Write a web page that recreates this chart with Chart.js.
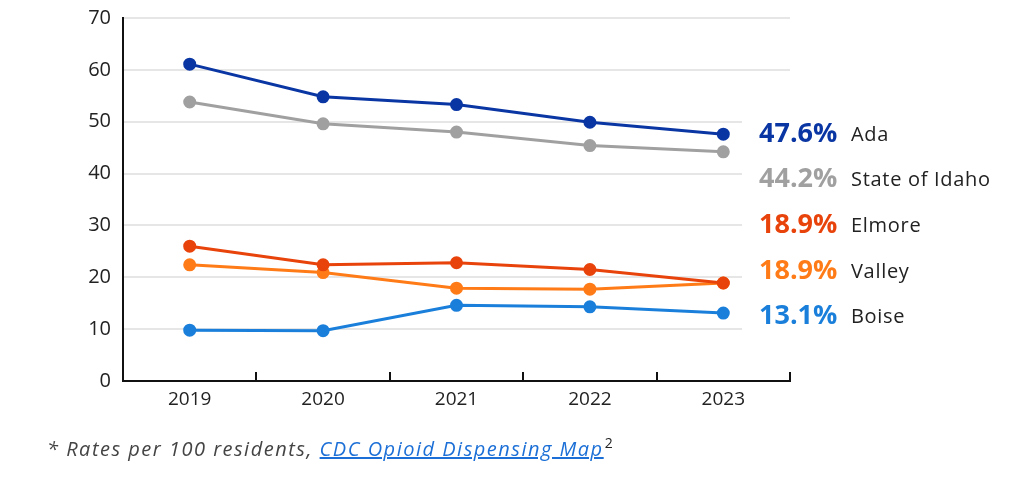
<!DOCTYPE html>
<html lang="en">
<head>
    <meta charset="UTF-8">
    <title>Opioid Dispensing Rates</title>
    <script src="https://cdn.jsdelivr.net/npm/chart.js"></script>
    <style>
        body { margin: 0; background: #fff; }
        .wrap { position: relative; width: 1024px; height: 484px; }
        .note {
            position: absolute; left: 47px; top: 433px;
            font-family: "Open Sans", sans-serif; font-size: 20px; font-style: italic;
            letter-spacing: 1.5px; color: #444; white-space: nowrap;
        }
        .note a { color: #1b6fd6; text-decoration: underline; }
        .note sup { font-style: normal; font-size: 14px; color: #222; margin-left: 1px; letter-spacing: 0; }
    </style>
</head>
<body>
    <div class="wrap">
        <canvas id="chartRates" width="1024" height="484"></canvas>
        <div class="note">* Rates per 100 residents, <a href="#">CDC Opioid Dispensing Map</a><sup>2</sup></div>
    </div>

    <script>
        // years + rates per 100 residents
        const years = ['2019', '2020', '2021', '2022', '2023'];
        const seriesNames = ['Ada', 'State of Idaho', 'Elmore', 'Valley', 'Boise'];
        const adaRates = [61.1, 54.8, 53.3, 49.9, 47.6];
        const idahoRates = [53.8, 49.6, 48.0, 45.4, 44.2];
        const elmoreRates = [26.0, 22.4, 22.8, 21.5, 18.9];
        const valleyRates = [22.4, 20.9, 17.9, 17.7, 18.9];
        const boiseRates = [9.8, 9.7, 14.6, 14.3, 13.1];
        const yTicks = [0, 10, 20, 30, 40, 50, 60, 70];

        const colors = ['#0a36a4', '#a0a0a0', '#e8430b', '#ff7b17', '#1a7fda'];
        const allRates = [adaRates, idahoRates, elmoreRates, valleyRates, boiseRates];

        // labels at the right end of the lines, and the small upward ticks on the x axis
        const endLabels = {
            id: 'endLabels',
            afterDraw(chart) {
                const ctx = chart.ctx;
                const area = chart.chartArea;
                const xs = chart.scales.x;
                const ys = chart.scales.y;

                ctx.save();
                // x-axis ticks pointing up, between categories
                ctx.strokeStyle = '#111';
                ctx.lineWidth = 2;
                for (let i = 0; i <= years.length; i++) {
                    let px = Math.round(xs.getPixelForValue(i - 0.5));
                    ctx.beginPath();
                    ctx.moveTo(px, area.bottom);
                    ctx.lineTo(px, area.bottom - 9);
                    ctx.stroke();
                }

                // white box so the lower gridlines stop before the labels
                ctx.fillStyle = '#fff';
                ctx.fillRect(742, ys.getPixelForValue(55), 60, ys.getPixelForValue(5) - ys.getPixelForValue(55));

                let last = years.length - 1;
                let y0 = chart.getDatasetMeta(0).data[last].y;
                ctx.textBaseline = 'middle';
                chart.data.datasets.forEach((ds, i) => {
                    let y = y0 + i * 45.6;
                    ctx.letterSpacing = '0px';
                    ctx.font = 'bold 27px "Open Sans"';
                    ctx.fillStyle = ds.borderColor;
                    ctx.fillText(ds.data[last].toFixed(1) + '%', 759, y);
                    ctx.letterSpacing = '0.7px';
                    ctx.font = '20px "Open Sans"';
                    ctx.fillStyle = '#222';
                    ctx.fillText(ds.label, 851, y + 1);
                });
                ctx.restore();
            }
        };

        new Chart(document.getElementById('chartRates'), {
            type: 'line',
            data: {
                labels: years,
                datasets: allRates.map((rates, i) => ({
                    label: seriesNames[i],
                    data: rates,
                    borderColor: colors[i],
                    backgroundColor: colors[i],
                    borderWidth: 3,
                    pointRadius: 5,
                    pointHoverRadius: 5,
                    tension: 0
                }))
            },
            options: {
                responsive: false,
                animation: false,
                layout: { padding: { top: 18, right: 234, bottom: 65, left: 0 } },
                plugins: {
                    legend: { display: false },
                    tooltip: { enabled: false }
                },
                scales: {
                    x: {
                        offset: true,
                        grid: { display: false, drawTicks: false },
                        border: { display: true, color: '#111', width: 2 },
                        ticks: {
                            color: '#222', padding: 7,
                            font: { family: 'Open Sans', size: 19 }
                        },
                        afterFit(s) { s.height = 38; }
                    },
                    y: {
                        min: 0, max: 70,
                        afterBuildTicks(s) { s.ticks = yTicks.map(v => ({ value: v })); },
                        grid: { color: '#e6e6e6', lineWidth: 2, drawTicks: false },
                        border: { display: true, color: '#111', width: 2 },
                        ticks: {
                            color: '#222', padding: 12,
                            font: { family: 'Open Sans', size: 20 }
                        },
                        afterFit(s) { s.width = 123; s.paddingTop = 0; s.paddingBottom = 0; }
                    }
                }
            },
            plugins: [endLabels]
        });
    </script>
</body>
</html>
